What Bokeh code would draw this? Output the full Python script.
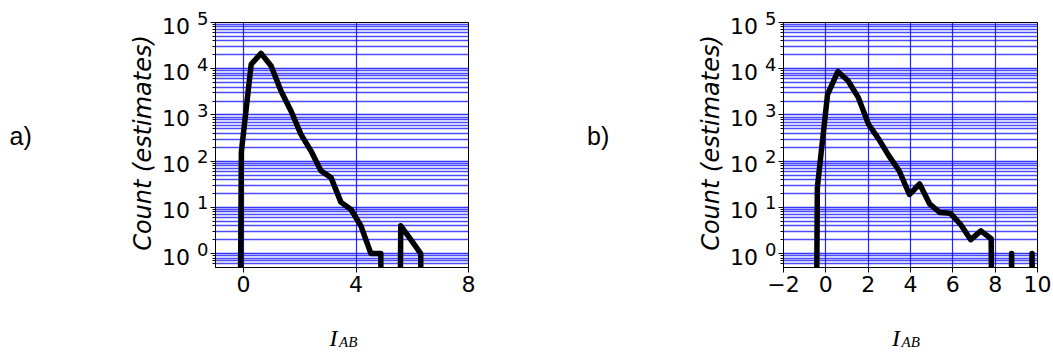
import numpy as np
from bokeh.plotting import figure
from bokeh.layouts import row
from bokeh.models import Range1d, FixedTicker, CustomJSTickFormatter, GridBox
from bokeh.core.properties import value
from bokeh.embed import file_html
from bokeh.resources import INLINE

# ---- data: panel a) (bin centres, estimated counts; 0 = empty bin)
xa = [-0.43, -0.08, 0.27, 0.62, 0.98, 1.33, 1.69, 2.04, 2.40, 2.75, 3.11,
      3.46, 3.82, 4.17, 4.53, 4.88, 5.24, 5.59, 5.95, 6.30, 6.66]
ca = [0, 160, 12500, 21500, 11500, 3300, 1200, 380, 165, 62, 44,
      13, 9, 4, 1, 1, 0, 4, 2, 1, 0]

# ---- data: panel b)
xb = [-0.883, -0.40, 0.083, 0.566, 1.049, 1.532, 2.015, 2.498, 2.981, 3.464,
      3.947, 4.43, 4.913, 5.396, 5.879, 6.362, 6.845, 7.328, 7.811, 8.294,
      8.777, 9.26, 9.743, 10.226]
cb = [0, 27, 2800, 8700, 5500, 2400, 630, 300, 130, 62,
      19, 32, 11.7, 7.7, 7.5, 4.3, 2.0, 3.1, 2.1, 0,
      1, 0, 1, 0]

# ---- ticks / texts
xticks_a = [0, 4, 8]
xtick_labels_a = ["0", "4", "8"]
xticks_b = [-2, 0, 2, 4, 6, 8, 10]
xtick_labels_b = ["\u22122", "0", "2", "4", "6", "8", "10"]
yticks = [1, 10, 100, 1000, 10000, 100000]
ytick_base = ["10"] * 6
ytick_exp = ["0", "1", "2", "3", "4", "5"]
yminor = [0.6, 0.7, 0.8, 0.9] + [m * 10 ** k for k in range(5) for m in range(2, 10)]
ylabel = "Count (estimates)"
panel_labels = ["a)", "b)"]
xlabel_main = "I"
xlabel_sub = "AB"

SANS = "DejaVu Sans"
GRID = "#0000ff"

# ---- layout constants (canvas pixels)
W_A, W_B, H = 534, 519, 356
TOP, FRAME_H = 22, 245
BOTTOM = H - TOP - FRAME_H
LEFT_A, FW_A = 215, 253
LEFT_B, FW_B = 249, 254
Y0, Y1 = 0.5, 1e5
SHIFT = -8   # baseline correction for overlay texts (px)


def make_panel(xs, cs, xr, xticks, xlabels, width, bl, fw):
    p = figure(width=width, height=H, x_range=Range1d(*xr),
               y_range=Range1d(Y0, Y1), y_axis_type="log",
               output_backend="svg", toolbar_location=None,
               min_border_left=bl, min_border_right=width - bl - fw,
               min_border_top=TOP, min_border_bottom=BOTTOM)
    p.background_fill_color = "white"
    p.border_fill_color = "white"
    p.outline_line_color = "black"
    p.outline_line_width = 1
    p.outline_line_alpha = 1

    ys = np.array(cs, dtype=float)
    ys = np.where(ys > 0, ys, 1e-30)
    p.line(xs, ys, line_color="black", line_width=5.5, line_join="round")

    p.xaxis.ticker = FixedTicker(ticks=xticks)
    p.xaxis.formatter = CustomJSTickFormatter(
        args=dict(t=xticks, l=xlabels),
        code="for (let i=0;i<t.length;i++){if(Math.abs(t[i]-tick)<1e-9){return l[i];}} return '';")
    p.yaxis.ticker = FixedTicker(ticks=yticks, minor_ticks=yminor)
    p.yaxis.formatter = CustomJSTickFormatter(code="return '';")

    for ax in (p.xaxis, p.yaxis):
        ax.axis_line_color = "black"
        ax.major_tick_line_color = "black"
        ax.minor_tick_line_color = "black"
        ax.major_tick_out = 5
        ax.major_tick_in = 0
        ax.minor_tick_out = 3
        ax.minor_tick_in = 0
        ax.major_label_text_font = SANS
        ax.major_label_text_font_size = "22px"
        ax.major_label_text_color = "black"
        ax.major_label_standoff = 3
    p.xaxis.minor_tick_line_color = None

    p.xgrid.grid_line_color = GRID
    p.xgrid.grid_line_alpha = 0.85
    p.xgrid.grid_line_width = 1.2
    p.ygrid.grid_line_color = GRID
    p.ygrid.grid_line_alpha = 0.8
    p.ygrid.grid_line_width = 1.5
    p.ygrid.minor_grid_line_color = GRID
    p.ygrid.minor_grid_line_alpha = 0.7
    p.ygrid.minor_grid_line_width = 1.5
    return p


pa = make_panel(xa, ca, (-1, 8), xticks_a, xtick_labels_a, W_A, LEFT_A, FW_A)
pb = make_panel(xb, cb, (-2, 10), xticks_b, xtick_labels_b, W_B, LEFT_B, FW_B)

# ---- transparent overlay for texts lying outside the plot frames
W_ALL = W_A + W_B
dec = FRAME_H / np.log10(Y1 / Y0)
log_top = np.log10(Y1) + TOP / dec
log_bot = np.log10(Y0) - BOTTOM / dec


def vy(cy):
    """canvas y (from top) -> value on the shared log scale"""
    return 10 ** (log_top - cy / dec)


ov = figure(width=W_ALL, height=H, x_range=Range1d(0, W_ALL),
            y_range=Range1d(10 ** log_bot, 10 ** log_top), y_axis_type="log",
            output_backend="svg", toolbar_location=None,
            x_axis_location=None, y_axis_location=None,
            min_border=0, min_border_left=0, min_border_right=0,
            min_border_top=0, min_border_bottom=0)
ov.background_fill_color = None
ov.border_fill_color = None
ov.outline_line_color = None
ov.grid.visible = False

frame_lefts = [LEFT_A, W_A + LEFT_B]

# y tick labels "10" + superscript exponent
tx, ty, tt = [], [], []
sx, sy, st = [], [], []
for fl in frame_lefts:
    for v, b, e in zip(yticks, ytick_base, ytick_exp):
        tx.append(fl - 25.5); ty.append(v); tt.append(b)
        sx.append(fl - 18.5); sy.append(v); st.append(e)
ov.text(x=tx, y=ty, text=tt, text_font=value(SANS), text_font_size="22px",
        text_color="black", text_align="right", text_baseline="alphabetic",
        y_offset=11 + SHIFT)
ov.text(x=sx, y=sy, text=st, text_font=value(SANS), text_font_size="18px",
        text_color="black", text_align="left", text_baseline="alphabetic",
        y_offset=3.5 + SHIFT)

# y axis titles (rotated)
ov.text(x=[fl - 73 for fl in frame_lefts], y=[vy(TOP + FRAME_H / 2 - 2)] * 2,
        text=[ylabel, ylabel], angle=np.pi / 2, text_font=value(SANS),
        text_font_style="italic", text_font_size="24px", text_color="black",
        text_align="center", text_baseline="middle")

# panel labels a) b)
ov.text(x=[9, W_A + 52.5], y=[vy(143)] * 2, text=panel_labels,
        text_font=value("Liberation Sans"), text_font_size="25px",
        text_color="black", text_align="left", text_baseline="alphabetic",
        y_offset=SHIFT)

# x axis titles I_AB
ov.text(x=[frame_lefts[0] + 114, frame_lefts[1] + 108.5], y=[vy(345)] * 2,
        text=[xlabel_main] * 2, text_font=value("Liberation Serif"),
        text_font_style="italic", text_font_size="24px", text_color="black",
        text_align="left", text_baseline="alphabetic", y_offset=SHIFT)
ov.text(x=[frame_lefts[0] + 123.5, frame_lefts[1] + 118], y=[vy(349)] * 2,
        text=[xlabel_sub] * 2, text_font=value("Liberation Serif"),
        text_font_style="italic", text_font_size="15px", text_color="black",
        text_align="left", text_baseline="alphabetic", y_offset=SHIFT)

layout = GridBox(children=[(row(pa, pb), 0, 0), (ov, 0, 0)])
open("out.html", "w", encoding="utf-8").write(file_html(layout, INLINE))
